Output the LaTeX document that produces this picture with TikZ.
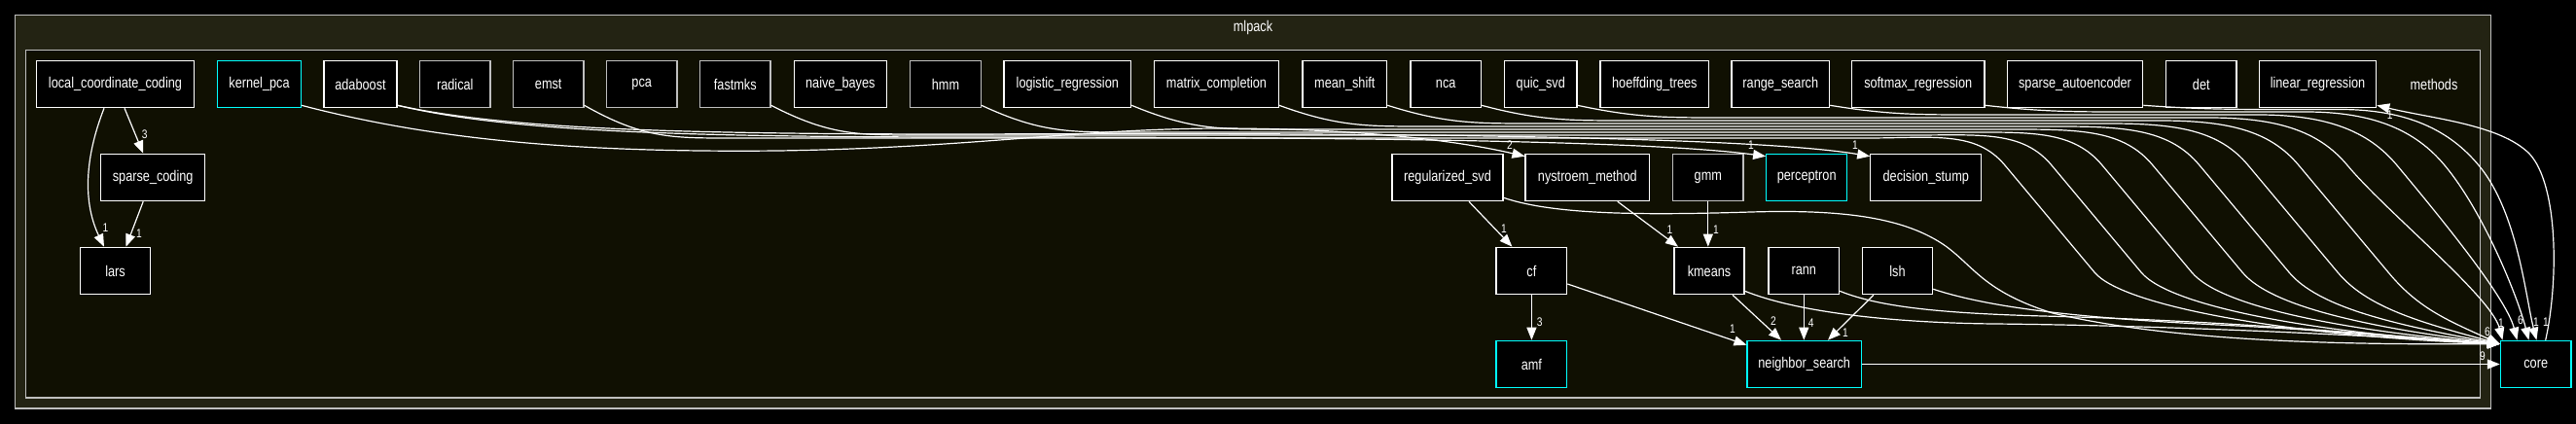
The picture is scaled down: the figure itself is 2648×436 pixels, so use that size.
\documentclass[tikz,border=0pt]{standalone}
\usepackage{fontspec}
\setmainfont{Liberation Sans}[FakeStretch=0.82]
\usetikzlibrary{arrows.meta,calc}
\definecolor{outerfill}{HTML}{232313}
\definecolor{innerfill}{HTML}{101002}
\definecolor{framegray}{HTML}{BFBFBF}
\definecolor{leafgray}{HTML}{BFBFBF}
\definecolor{hicyan}{HTML}{00FFFF}
\newcommand{\nodefont}{\fontsize{15.5}{18}\selectfont}
\newcommand{\labfont}{\fontsize{12.5}{14}\selectfont}
\begin{document}
\begin{tikzpicture}[x=1pt,y=-1pt,
 box/.style={draw=white, fill=black, line width=1.2pt, minimum height=48.4pt, inner sep=0pt, text=white, font=\nodefont},
 leaf/.style={box, draw=leafgray},
 hub/.style={box, draw=hicyan},
 dep/.style={draw=white, line width=1.2pt, -{Triangle[length=13pt,width=10pt]}},
 lab/.style={text=white, font=\labfont, inner sep=0pt},
 ttl/.style={text=white, font=\nodefont, inner sep=0pt}]
\fill[black] (0,0) rectangle (2648,436);
\useasboundingbox (0,0) rectangle (2648,436);
\filldraw[fill=outerfill, draw=framegray, line width=1.2pt] (15.6,15.7) rectangle (2560.4,420);
\filldraw[fill=innerfill, draw=framegray, line width=1.2pt] (26.3,51.7) rectangle (2549.7,409);
\node[ttl] (mlpacklbl) at (1288,28) {mlpack};
\node[ttl] (methodslbl) at (2502,86.5) {methods};
% row 1
\node[box, minimum width=162pt] (lcc) at (118.5,86.5) {local\_coordinate\_coding};
\node[hub, minimum width=85.7pt] (kpca) at (266.5,86.5) {kernel\_pca};
\node[box, minimum width=75pt] (adaboost) at (370.5,86.5) {adaboost};
\node[leaf, minimum width=72.3pt] (radical) at (467.8,86.5) {radical};
\node[leaf, minimum width=72.7pt] (emst) at (563.7,86.5) {emst};
\node[leaf, minimum width=72.7pt] (pca) at (659.7,86.5) {pca};
\node[leaf, minimum width=72.4pt] (fastmks) at (755.8,86.5) {fastmks};
\node[box, minimum width=95pt] (nbayes) at (863.8,86.5) {naive\_bayes};
\node[leaf, minimum width=72.6pt] (hmm) at (972,86.5) {hmm};
\node[box, minimum width=130.7pt] (logreg) at (1097.3,86.5) {logistic\_regression};
\node[box, minimum width=127.6pt] (matcomp) at (1250.5,86.5) {matrix\_completion};
\node[box, minimum width=86.7pt] (meanshift) at (1382.3,86.5) {mean\_shift};
\node[box, minimum width=72.3pt] (nca) at (1486.2,86.5) {nca};
\node[box, minimum width=74.3pt] (quicsvd) at (1583.8,86.5) {quic\_svd};
\node[box, minimum width=111.7pt] (hoeff) at (1700.8,86.5) {hoeffding\_trees};
\node[box, minimum width=100.7pt] (rangesearch) at (1830.3,86.5) {range\_search};
\node[box, minimum width=136.7pt] (softmax) at (1971.7,86.5) {softmax\_regression};
\node[box, minimum width=139.4pt] (sparseae) at (2133,86.5) {sparse\_autoencoder};
\node[box, minimum width=72.3pt] (det) at (2262.8,86.5) {det};
\node[box, minimum width=120.4pt] (linreg) at (2382.5,86.5) {linear\_regression};
% row 2
\node[box, minimum width=107pt] (sc) at (157.2,182.5) {sparse\_coding};
\node[box, minimum width=114pt] (rsvd) at (1488,182.5) {regularized\_svd};
\node[box, minimum width=127.5pt] (nys) at (1631.8,182.5) {nystroem\_method};
\node[leaf, minimum width=72.4pt] (gmm) at (1755.8,182.5) {gmm};
\node[hub, minimum width=83pt] (perc) at (1857.2,182.5) {perceptron};
\node[box, minimum width=114pt] (dstump) at (1979.8,182.5) {decision\_stump};
% row 3
\node[box, minimum width=72pt] (lars) at (118.5,278.5) {lars};
\node[box, minimum width=72.7pt] (cf) at (1574.4,278.5) {cf};
\node[box, minimum width=72pt] (kmeans) at (1757,278.5) {kmeans};
\node[box, minimum width=72.6pt] (rann) at (1854.3,278.5) {rann};
\node[box, minimum width=72.3pt] (lsh) at (1950.5,278.5) {lsh};
% row 4
\node[hub, minimum width=72.7pt] (amf) at (1574.4,374.5) {amf};
\node[hub, minimum width=117.4pt] (ns) at (1854.7,374.5) {neighbor\_search};
\node[hub, minimum width=72.7pt] (core) at (2606.7,374.5) {core};
% left group
\draw[dep] ([xshift=9.5pt]lcc.south) -- ([xshift=-10pt]sc.north);
\draw[dep] ([xshift=-11.5pt]lcc.south) .. controls (86,165) and (86,210) .. ([xshift=-11.5pt]lars.north);
\draw[dep] ([xshift=-10pt]sc.south) -- ([xshift=11pt]lars.north);
\node[lab] (la1) at (148.7,137.7) {3};
\node[lab] (la2) at (108.5,234) {1};
\node[lab] (la3) at (143,240) {1};
% kernel_pca / adaboost
\draw[dep] ([yshift=3pt]kpca.south east) .. controls (450,145) and (600,157) .. (800,155) .. controls (1000,152) and (1100,133) .. (1250,132) .. controls (1400,132) and (1500,145) .. ([yshift=-3pt]nys.north west);
\draw[dep] ([yshift=3pt]adaboost.south east) .. controls (520,135) and (700,141) .. (1000,141) .. controls (1400,141) and (1700,145) .. ([yshift=-3pt]perc.north west);
\draw[dep] ([yshift=3pt]adaboost.south east) .. controls (520,133) and (700,138) .. (1000,138) .. controls (1400,136) and (1800,140) .. ([yshift=-3pt]dstump.north west);
\node[lab] (lb1) at (1552,149) {2};
\node[lab] (lb2) at (1800,149) {1};
\node[lab] (lb3) at (1907,149) {1};
% middle group
\draw[dep] ([xshift=22pt]rsvd.south) -- ([xshift=-20pt]cf.north);
\draw[dep] ([xshift=31pt]nys.south) -- ([xshift=-32pt]kmeans.north);
\draw[dep] (gmm.south) -- (gmm.south |- kmeans.north);
\draw[dep] (cf.south) -- (amf.north);
\draw[dep] ([yshift=-13.5pt]cf.east) -- ([yshift=-5pt]ns.north west);
\draw[dep] ([xshift=24pt]kmeans.south) -- ([xshift=-23.7pt]ns.north);
\draw[dep] (rann.south) -- (rann.south |- ns.north);
\draw[dep] ([xshift=-24.5pt]lsh.south) -- ([xshift=24.3pt]ns.north);
\draw[dep] (ns.east) -- (core.west);
\node[lab] (lc1) at (1546,235) {1};
\node[lab] (lc2) at (1716.5,236) {1};
\node[lab] (lc3) at (1764,236) {1};
\node[lab] (lc4) at (1582.6,331) {3};
\node[lab] (lc5) at (1781,338) {1};
\node[lab] (lc6) at (1823,330) {2};
\node[lab] (lc7) at (1861.6,332) {4};
\node[lab] (lc8) at (1897,342) {1};
% edges into core: bottom bundle
\foreach \s/\sx/\b/\D/\f in {emst/600/142/2078/346, fastmks/792/139/2126/343, hmm/1008.3/136/2178/340, logreg/1162.7/133/2230/337, matcomp/1314.3/130/2278/334, meanshift/1425.7/127/2328/331, nca/1522.3/124/2380/328}{
 \draw[dep] ([yshift=3pt]\s.south east) .. controls ({\sx+60},\b) and ({\sx+90},\b) .. ({\sx+150},\b) -- ({\D-160},\b) .. controls ({\D-90},\b) and ({\D-47},134) .. ({\D-17},170) -- ({\D+75},280) .. controls ({\D+105},316) and ({(2570+\D+75)/2},\f) .. ([yshift=-4pt]core.north west);
}
% edges into core: top
\foreach \s/\sx/\b/\D/\X in {quicsvd/1621/121/2430/2573, rangesearch/1880.7/118/2481/2588, softmax/2040/115/2530/2600, sparseae/2202.7/112.5/2565/2608}{
 \draw[dep] ([yshift=3pt]\s.south east) .. controls ({\sx+60},\b) and ({\sx+90},\b) .. ({\sx+150},\b) -- ({\D-160},\b) .. controls ({\D-90},\b) and ({\D-47},134) .. ({\D-17},170) .. controls ({\D+23},218) and ({\X-12},305) .. ([xshift={(\X-2570.3)*1pt}]core.north west);
}
\draw[dep] ([yshift=4pt]rsvd.south east) .. controls (1600,222) and (1700,221) .. (1800,218) .. controls (1900,215) and (1960,225) .. (2000,253) .. controls (2030,275) and (2040,300) .. (2110,322) .. controls (2250,355) and (2450,354) .. ([yshift=-4pt]core.north west);
\draw[dep] ([yshift=4pt]kmeans.south east) .. controls (1850,322) and (1950,332) .. (2050,333) .. controls (2250,335) and (2450,346) .. ([yshift=-4pt]core.north west);
\draw[dep] ([yshift=4pt]rann.south east) .. controls (1930,315) and (1990,322) .. (2100,325) .. controls (2300,330) and (2450,345) .. ([yshift=-4pt]core.north west);
\draw[dep] ([yshift=6pt]lsh.south east) .. controls (2050,318) and (2150,328) .. (2300,335) .. controls (2400,340) and (2500,350) .. ([yshift=-4pt]core.north west);
% core -> linear_regression
\draw[dep] ([xshift=10pt]core.north) .. controls (2630,290) and (2630,190) .. (2600,158) .. controls (2570,128) and (2500,122) .. ([yshift=3pt]linreg.south east);
\node[lab] (ld1) at (2456.7,118) {1};
\node[lab] (ld2) at (2557,341) {6};
\node[lab] (ld3) at (2552,366) {9};
\node[lab] (ld4) at (2571,332) {1};
\node[lab] (ld5) at (2591,329) {6};
\node[lab] (ld6) at (2607,331) {1};
\node[lab] (ld7) at (2617,331) {1};
\end{tikzpicture}
\end{document}
